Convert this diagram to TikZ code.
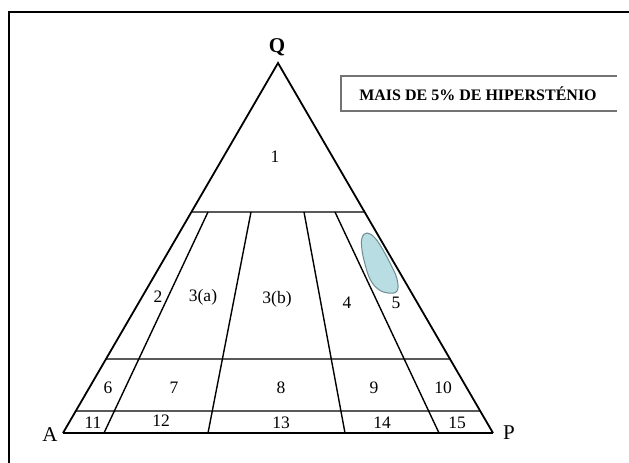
\documentclass[tikz,border=0pt]{standalone}
\usepackage{fontspec}
\setmainfont{Liberation Serif}
\begin{document}
\begin{tikzpicture}[x=1pt,y=-1pt,
  edge/.style={line width=1.8pt,black},
  hline/.style={line width=2.4pt,black!65},
  div/.style={line width=1.4pt,black},
  lab/.style={inner sep=0pt,font=\fontsize{17.5}{17.5}\selectfont},
  vert/.style={inner sep=0pt,font=\fontsize{21}{21}\selectfont}]
\useasboundingbox (0,0) rectangle (629,463);
% frame
\draw[line width=1.6pt,black] (9,463) -- (9,12) -- (629,12);
% corner coordinates
\coordinate (A) at (63,433);
\coordinate (P) at (493,433);
\coordinate (Q) at (278,63);
\coordinate (L60) at (191.4,212);
\coordinate (R60) at (364.6,212);
\coordinate (L20) at (106,359);
\coordinate (R20) at (450,359);
\coordinate (L5) at (75.8,411);
\coordinate (R5) at (480.2,411);
\coordinate (d1t) at (208,212); \coordinate (d1b) at (104,433);
\coordinate (d2t) at (251,212); \coordinate (d2b) at (208,433);
\coordinate (d3t) at (304,212); \coordinate (d3b) at (345,433);
\coordinate (d4t) at (335,212); \coordinate (d4b) at (439,433);
% horizontal lines
\draw[hline] (L60) -- (R60);
\draw[hline] (L20) -- (R20);
\draw[hline] (L5) -- (R5);
% dividers
\draw[div] (d1t) -- (d1b);
\draw[div] (d2t) -- (d2b);
\draw[div] (d3t) -- (d3b);
\draw[div] (d4t) -- (d4b);
% blob
\draw[fill={rgb,255:red,184;green,222;blue,228},draw={rgb,255:red,110;green,140;blue,145},line width=1pt]
  plot[smooth cycle,tension=0.7] coordinates {(362,238) (367,233) (375,238) (383,250) (391,265) (397,279) (397,291) (388,293) (378,289) (370,279) (365,264) (362,250)};
% triangle
\draw[edge] (A) -- (Q) -- (P);
\draw[line width=2pt,black] (A) -- (P);
% vertex labels
\node[vert,font=\bfseries\fontsize{21}{21}\selectfont] (qlab) at (277,47) {Q};
\node[vert] (alab) at (50,435) {A};
\node[vert] (plab) at (509,433) {P};
% field labels
\node[lab] (f1) at (275,157) {1};
\node[lab] (f2) at (158,297) {2};
\node[lab] (f3a) at (203,297) {3(a)};
\node[lab] (f3b) at (277,299) {3(b)};
\node[lab] (f4) at (347,303) {4};
\node[lab] (f5) at (396,303) {5};
\node[lab] (f6) at (108,388) {6};
\node[lab] (f7) at (174,388) {7};
\node[lab] (f8) at (281,388) {8};
\node[lab] (f9) at (374,388) {9};
\node[lab] (f10) at (443,388) {10};
\node[lab] (f11) at (93,423) {11};
\node[lab] (f12) at (161,421) {12};
\node[lab] (f13) at (281,423) {13};
\node[lab] (f14) at (382,423) {14};
\node[lab] (f15) at (457,423) {15};
% legend box (open on right)
\draw[line width=2pt,black!55] (617,76) -- (341,76) -- (341,111) -- (617,111);
\node[inner sep=0pt,font=\bfseries\fontsize{16}{16}\selectfont] (leg) at (478,94) {MAIS DE 5\% DE HIPERSTÉNIO};
\end{tikzpicture}
\end{document}
